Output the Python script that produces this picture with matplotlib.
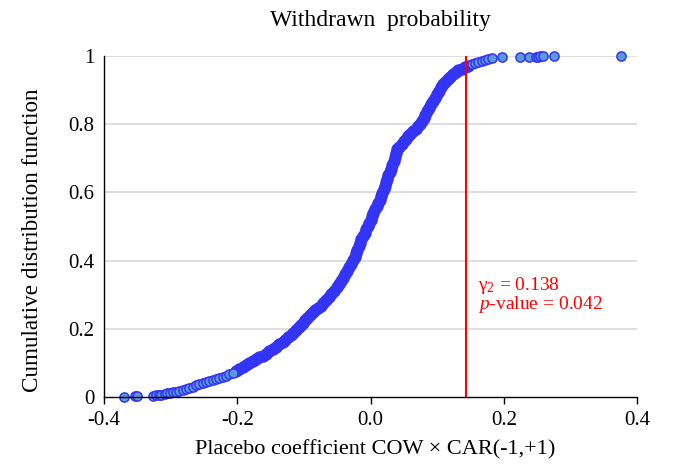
import matplotlib
matplotlib.use("Agg")
import matplotlib.pyplot as plt
import numpy as np

plt.rcParams["font.family"] = ["Liberation Serif", "DejaVu Serif"]
plt.rcParams["mathtext.fontset"] = "custom"
plt.rcParams["mathtext.rm"] = "Liberation Serif"
plt.rcParams["mathtext.it"] = "Liberation Serif:italic"

# placebo coefficients (sorted) and their cumulative share
coef = [
    -0.370, -0.353, -0.350, -0.327, -0.322, -0.317, -0.314, -0.309, -0.305, -0.301, -0.296, -0.292,
    -0.287, -0.282, -0.277, -0.272, -0.267, -0.262, -0.257, -0.252, -0.247, -0.242, -0.237, -0.232,
    -0.227, -0.222, -0.217, -0.212, -0.207, -0.202, -0.197, -0.192, -0.187, -0.182, -0.177, -0.172,
    -0.167, -0.162, -0.157, -0.152, -0.147, -0.142, -0.137, -0.132, -0.128, -0.124, -0.120, -0.116,
    -0.112, -0.108, -0.105, -0.102, -0.099, -0.095, -0.091, -0.087, -0.083, -0.079, -0.075, -0.071,
    -0.067, -0.063, -0.059, -0.055, -0.051, -0.047, -0.044, -0.041, -0.038, -0.035, -0.032, -0.029,
    -0.026, -0.024, -0.022, -0.020, -0.018, -0.016, -0.014, -0.011, -0.009, -0.007, -0.004, -0.002,
    0.000, 0.002, 0.004, 0.007, 0.010, 0.012, 0.014, 0.016, 0.018, 0.020, 0.022, 0.024,
    0.025, 0.027, 0.029, 0.031, 0.033, 0.035, 0.037, 0.039, 0.040, 0.043, 0.047, 0.050,
    0.054, 0.057, 0.060, 0.064, 0.068, 0.071, 0.075, 0.078, 0.080, 0.082, 0.085, 0.088,
    0.091, 0.094, 0.097, 0.100, 0.103, 0.106, 0.109, 0.112, 0.116, 0.120, 0.124, 0.128,
    0.132, 0.137, 0.142, 0.147, 0.152, 0.157, 0.162, 0.167, 0.172, 0.176, 0.182, 0.197,
    0.224, 0.238, 0.248, 0.252, 0.255, 0.259, 0.275, 0.376,
]
cdf = [
    0.001, 0.002, 0.003, 0.004, 0.005, 0.006, 0.007, 0.009, 0.011, 0.013, 0.015, 0.016,
    0.019, 0.021, 0.024, 0.027, 0.030, 0.034, 0.037, 0.041, 0.045, 0.047, 0.049, 0.052,
    0.055, 0.059, 0.063, 0.067, 0.071, 0.076, 0.082, 0.088, 0.094, 0.099, 0.105, 0.110,
    0.116, 0.121, 0.127, 0.134, 0.140, 0.147, 0.154, 0.161, 0.168, 0.175, 0.182, 0.189,
    0.196, 0.204, 0.211, 0.218, 0.225, 0.233, 0.241, 0.248, 0.254, 0.261, 0.268, 0.275,
    0.284, 0.293, 0.302, 0.312, 0.322, 0.332, 0.341, 0.350, 0.360, 0.370, 0.380, 0.391,
    0.402, 0.412, 0.422, 0.432, 0.442, 0.452, 0.462, 0.472, 0.482, 0.492, 0.502, 0.511,
    0.520, 0.530, 0.540, 0.550, 0.559, 0.569, 0.579, 0.589, 0.599, 0.609, 0.619, 0.630,
    0.640, 0.650, 0.660, 0.670, 0.680, 0.691, 0.703, 0.715, 0.726, 0.734, 0.742, 0.750,
    0.757, 0.764, 0.771, 0.779, 0.787, 0.794, 0.801, 0.810, 0.819, 0.828, 0.838, 0.848,
    0.858, 0.868, 0.878, 0.888, 0.898, 0.908, 0.918, 0.924, 0.932, 0.939, 0.946, 0.952,
    0.958, 0.963, 0.968, 0.972, 0.976, 0.980, 0.983, 0.986, 0.988, 0.990, 0.994, 0.996,
    0.997, 0.998, 0.998, 0.998, 0.999, 0.999, 0.999, 1.000,
]

gamma2 = 0.138
p_value = 0.042
line_x = 0.144  # red line as drawn in the chart

xticks = [-0.4, -0.2, 0.0, 0.2, 0.4]
xlabels = ["-0.4", "-0.2", "0.0", "0.2", "0.4"]
yticks = [0, 0.2, 0.4, 0.6, 0.8, 1]
ylabels = ["0", "0.2", "0.4", "0.6", "0.8", "1"]

edge = "#3434F6"
fill = "#5B9BD5"

fig = plt.figure(figsize=(6.73, 4.67), dpi=100)
ax = fig.add_axes([104 / 673, 70 / 467, 533 / 673, 341 / 467])

# where the points pile up, the overlapping borders read as one solid blue band
x = np.array(coef)
y = np.array(cdf)
dense = (x > -0.205) & (x < 0.15)
ax.plot(x[dense], y[dense], "o", ms=7.8, mfc=edge, mec=edge, mew=1.1,
        linestyle="none", clip_on=False, zorder=3)
ax.plot(x[~dense], y[~dense], "o", ms=6.6, mfc=fill, mec=edge, mew=1.1,
        linestyle="none", clip_on=False, zorder=3)
ax.axvline(line_x, color="#FF0000", lw=1.5, zorder=4)

ax.set_xlim(-0.4, 0.4)
ax.set_ylim(0, 1)
ax.set_xticks(xticks)
ax.set_xticklabels(xlabels)
ax.set_yticks(yticks)
ax.set_yticklabels(ylabels)
ax.tick_params(axis="x", direction="out", length=5, width=1, pad=5, labelsize=15)
ax.tick_params(axis="y", length=0, pad=7, labelsize=15)

for g in yticks[1:]:
    ax.axhline(g, color="#D9D9D9", lw=1.2, zorder=1)

for s in ["top", "right"]:
    ax.spines[s].set_visible(False)
for s in ["left", "bottom"]:
    ax.spines[s].set_linewidth(1.0)
    ax.spines[s].set_zorder(5)

ax.text(0.161, 0.3147, r"$\mathregular{\gamma_2}$ = %.3f" % gamma2, color="#FF0000",
        fontsize=14, va="baseline", ha="left")
ax.text(0.161, 0.2588, r"$\mathit{p}$-value = %.3f" % p_value, color="#FF0000",
        fontsize=14, va="baseline", ha="left")

fig.text(380 / 673, 1 - 26 / 467, "Withdrawn  probability", fontsize=17,
         ha="center", va="baseline")
fig.text(374.7 / 673, 1 - 450 / 467, "Placebo coefficient COW \u00d7 CAR(-1,+1)",
         fontsize=16, ha="center", va="center")
fig.text(33 / 673, 1 - 240 / 467, "Cumulative distribution function", fontsize=16.7,
         rotation=90, ha="center", va="center")

fig.savefig("out.png", dpi=100)
